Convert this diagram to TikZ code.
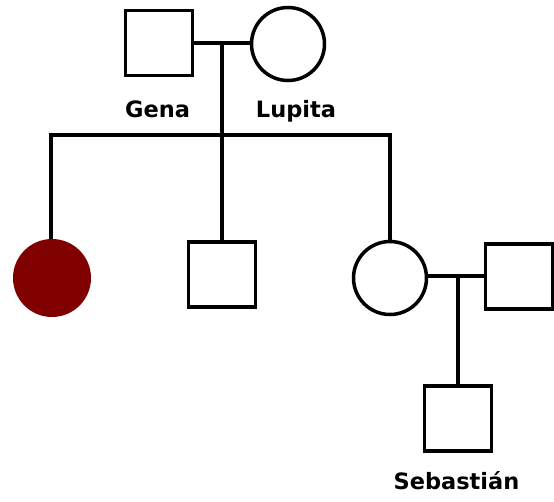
\documentclass[tikz,border=0pt]{standalone}
\usepackage{fontspec}
\setmainfont{DejaVu Sans}
\definecolor{affected}{HTML}{800000}
\begin{document}
\begin{tikzpicture}[x=1pt,y=-1pt,
  male/.style={draw=black,line width=3.5pt,minimum width=67pt,minimum height=65pt,inner sep=0pt,outer sep=0pt},
  female/.style={draw=black,line width=3.5pt,circle,minimum size=73pt,inner sep=0pt,outer sep=0pt},
  femaleaff/.style={fill=affected,circle,minimum size=78pt,inner sep=0pt,outer sep=0pt},
  lbl/.style={font=\bfseries\fontsize{22.5}{26}\selectfont,anchor=base,inner sep=0pt},
  link/.style={line width=3.5pt}]
\useasboundingbox (0,0) rectangle (554,501);
% generation I
\node[male] (gena) at (159,43) {};
\node[female] (lupita) at (288,44) {};
\node[lbl] (genal) at (157.5,117) {Gena};
\node[lbl] (lupital) at (296,117) {Lupita};
% generation II
\node[femaleaff] (d1) at (52,278) {};
\node[male] (s1) at (222,274.5) {};
\node[female] (d2) at (390,278) {};
\node[male] (sp) at (519,276.5) {};
% generation III
\node[male] (seb) at (458,418.5) {};
\node[lbl] (sebl) at (456.5,489) {Sebastián};
% connectors
\coordinate (m1) at (222,43);
\coordinate (sib) at (222,135);
\coordinate (sibL) at (51,135);
\coordinate (sibR) at (390,135);
\coordinate (m2) at (458,276);
\draw[link] (gena.east |- m1) -- (lupita.west |- m1);
\draw[link] (m1) -- (sib);
\draw[link,line join=miter] (d1.north -| sibL) -- (sibL) -- (sibR) -- (d2.north);
\draw[link] (sib) -- (s1.north);
\draw[link] (d2.east |- m2) -- (sp.west |- m2);
\draw[link] (m2) -- (seb.north);
\end{tikzpicture}
\end{document}
